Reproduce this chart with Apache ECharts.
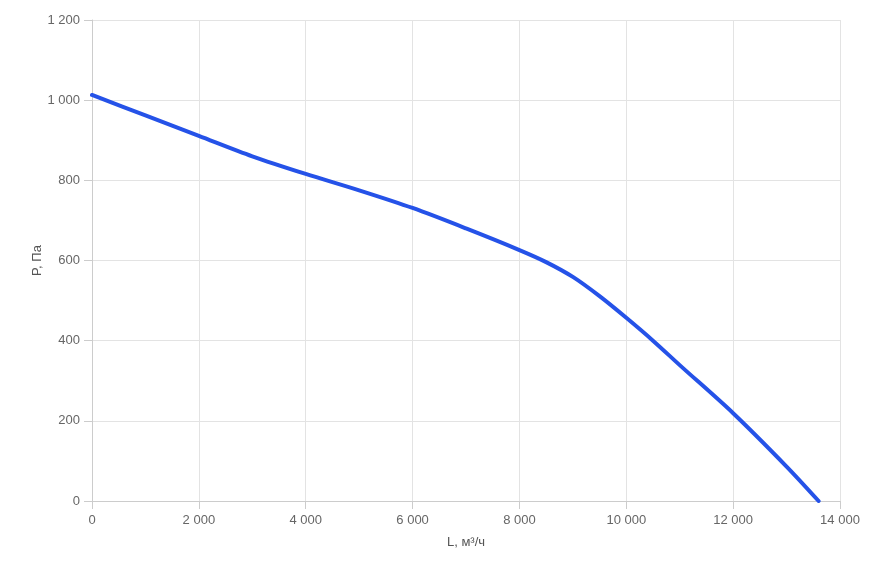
<!DOCTYPE html>
<html><head><meta charset="utf-8">
<script src="https://cdn.jsdelivr.net/npm/echarts@6/dist/echarts.min.js"></script>
<style>html,body{margin:0;padding:0;background:#fff}#c{width:884px;height:563px}</style>
</head><body><div id="c"></div>
<script>
const flowValues = [0, 1000, 2000, 3000, 4000, 5000, 6000, 7000, 8000, 8500, 9000, 9500, 10000, 10500, 11000, 12000, 13000, 13600];
const pressureValues = [1013, 962, 911, 860, 816, 775, 731, 680, 626, 596, 559, 511, 457, 400, 339, 219, 86, 0];
const xAxisName = 'L, м³/ч';
const yAxisName = 'P, Па';

function fmt(v){ return String(v).replace(/\B(?=(\d{3})+(?!\d))/g, ' '); }

const chart = echarts.init(document.getElementById('c'));
chart.setOption({
  animation: false,
  grid: { left: 92, right: 44, top: 20, bottom: 62 },
  xAxis: {
    type: 'value', min: 0, max: 14000, interval: 2000,
    name: xAxisName, nameLocation: 'middle', nameGap: 35, nameMoveOverlap: false,
    nameTextStyle: { color: '#555', fontSize: 13, fontFamily: 'Liberation Sans' },
    axisLine: { show: true, lineStyle: { color: '#cccccc' } },
    axisTick: { show: true, length: 8, lineStyle: { color: '#cccccc' } },
    axisLabel: { color: '#666', fontSize: 13, fontFamily: 'Liberation Sans', formatter: fmt, margin: 13 },
    splitLine: { show: true, lineStyle: { color: '#e3e3e3' } }
  },
  yAxis: {
    type: 'value', min: 0, max: 1200, interval: 200,
    name: yAxisName, nameLocation: 'middle', nameGap: 48, nameRotate: 90, nameMoveOverlap: false,
    nameTextStyle: { color: '#555', fontSize: 13, fontFamily: 'Liberation Sans' },
    axisLine: { show: true, lineStyle: { color: '#cccccc' } },
    axisTick: { show: true, length: 8, lineStyle: { color: '#cccccc' } },
    axisLabel: { color: '#666', fontSize: 13, fontFamily: 'Liberation Sans', formatter: fmt, margin: 12 },
    splitLine: { show: true, lineStyle: { color: '#e3e3e3' } }
  },
  series: [{
    type: 'line', smooth: 0.3, showSymbol: false,
    data: flowValues.map((x, i) => [x, pressureValues[i]]),
    lineStyle: { color: '#2552e8', width: 4, cap: 'round' }
  }]
});
</script></body></html>
